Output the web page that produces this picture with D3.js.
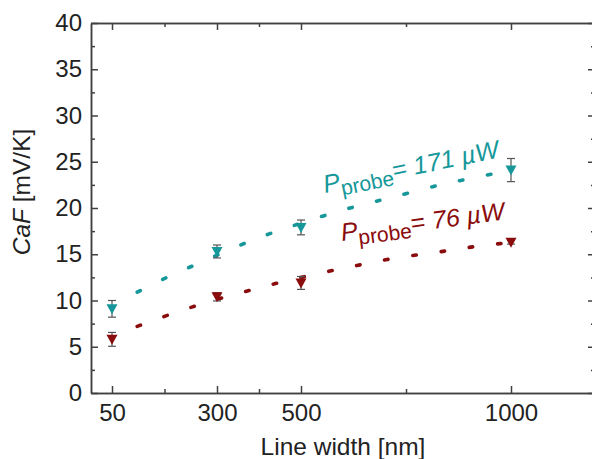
<!DOCTYPE html>
<html>
<head>
<meta charset="utf-8">
<script src="https://cdn.jsdelivr.net/npm/d3@7"></script>
<style>
  body { margin: 0; background: white; }
  text { font-family: "Liberation Sans", Arial, sans-serif; }
</style>
</head>
<body>
<div id="chart"></div>
<script>
const width = 592
const height = 459

// measured points (line width in nm)
const widths = [50, 300, 500, 1000]
const highVals = [9.1, 15.3, 17.9, 24.1]
const highErr = [0.9, 0.7, 0.8, 1.25]
const lowVals = [5.8, 10.4, 11.9, 16.3]
const lowErr = [0.75, 0.45, 0.7, 0.2]

// fit curves
const highFitX = [110, 170, 230, 290, 350, 410, 470, 535, 600, 665, 715, 785, 850, 915, 980]
const highFitY = [10.9, 12.3, 13.5, 14.7, 15.9, 17.0, 17.9, 18.9, 19.8, 20.6, 21.1, 22.0, 22.7, 23.3, 23.9]
const lowFitX = [110, 175, 240, 305, 370, 435, 500, 570, 635, 710, 785, 855, 920, 985]
const lowFitY = [7.2, 8.3, 9.3, 10.2, 11.0, 11.8, 12.5, 13.2, 13.8, 14.5, 15.0, 15.4, 15.9, 16.2]

const xMajor = [50, 300, 500, 1000]
const xMinor = [175, 400, 750]
const yMajor = [0, 5, 10, 15, 20, 25, 30, 35, 40]
const yMinor = d3.range(2.5, 40, 5)

const teal = "#16979a"
const red = "#8a0c0c"
const axisColor = "#404040"

const x = d3.scaleLinear([0, 1200], [91, 595])
const y = d3.scaleLinear([0, 40], [393, 23])

const svg = d3.select("#chart").append("svg")
  .attr("width", width)
  .attr("height", height)
  .style("background", "white")

// axes, ticks pointing inward
function styleAxis(g) {
  g.selectAll("path, line").attr("stroke", axisColor).attr("stroke-width", 1.5)
  g.selectAll("text").attr("fill", "#222").style("font-size", "24px")
    .style("font-family", "'Liberation Sans', Arial, sans-serif")
}

svg.append("g").attr("transform", "translate(0,393)")
  .call(d3.axisBottom(x).tickValues(xMajor).tickSizeInner(-7).tickSizeOuter(0).tickPadding(11).tickFormat(d3.format("d")))
  .call(styleAxis)
svg.append("g").attr("transform", "translate(0,393)")
  .call(d3.axisBottom(x).tickValues(xMinor).tickSizeInner(-4).tickSizeOuter(0).tickFormat(""))
  .call(styleAxis)
svg.append("g").attr("transform", "translate(0,23)")
  .call(d3.axisTop(x).tickValues(xMajor).tickSizeInner(-7).tickSizeOuter(0).tickFormat(""))
  .call(styleAxis)
svg.append("g").attr("transform", "translate(0,23)")
  .call(d3.axisTop(x).tickValues(xMinor).tickSizeInner(-4).tickSizeOuter(0).tickFormat(""))
  .call(styleAxis)

svg.append("g").attr("transform", "translate(91,0)")
  .call(d3.axisLeft(y).tickValues(yMajor).tickSizeInner(-7).tickSizeOuter(0).tickPadding(9))
  .call(styleAxis)
svg.append("g").attr("transform", "translate(91,0)")
  .call(d3.axisLeft(y).tickValues(yMinor).tickSizeInner(-4).tickSizeOuter(0).tickFormat(""))
  .call(styleAxis)
svg.append("g").attr("transform", "translate(595,0)")
  .call(d3.axisRight(y).tickValues(yMajor).tickSizeInner(-7).tickSizeOuter(0).tickFormat(""))
  .call(styleAxis)
svg.append("g").attr("transform", "translate(595,0)")
  .call(d3.axisRight(y).tickValues(yMinor).tickSizeInner(-4).tickSizeOuter(0).tickFormat(""))
  .call(styleAxis)

// axis titles
svg.append("text")
  .attr("x", x(600)).attr("y", 455)
  .attr("text-anchor", "middle")
  .style("font-size", "24.5px").attr("fill", "#222")
  .text("Line width [nm]")

const yTitle = svg.append("text")
  .attr("transform", "translate(30,192) rotate(-90)")
  .attr("text-anchor", "middle")
  .style("font-size", "24.5px").attr("fill", "#222")
yTitle.append("tspan").style("font-style", "italic").text("CaF")
yTitle.append("tspan").text(" [mV/K]")

// dotted fit curves
const line = d3.line().curve(d3.curveBasis)
function drawFit(xs, ys, color) {
  svg.append("path")
    .attr("d", line(xs.map((d, i) => [x(d), y(ys[i])])))
    .attr("fill", "none")
    .attr("stroke", color)
    .attr("stroke-width", 3.6)
    .attr("stroke-linecap", "round")
    .attr("stroke-dasharray", "3.5,25")
}
drawFit(highFitX, highFitY, teal)
drawFit(lowFitX, lowFitY, red)

// error bars and down triangles
const tri = "M-5.5,-4.5L5.5,-4.5L0,5.5Z"
function drawSeries(vals, errs, color) {
  const g = svg.append("g")
  widths.forEach((w, i) => {
    const cx = x(w)
    const top = y(vals[i] + errs[i])
    const bot = y(vals[i] - errs[i])
    g.append("line").attr("x1", cx).attr("x2", cx).attr("y1", top).attr("y2", bot)
      .attr("stroke", "#555").attr("stroke-width", 1.2)
    ;[top, bot].forEach(yy => g.append("line")
      .attr("x1", cx - 4).attr("x2", cx + 4).attr("y1", yy).attr("y2", yy)
      .attr("stroke", "#555").attr("stroke-width", 1.2))
    g.append("path").attr("d", tri)
      .attr("transform", `translate(${cx},${y(vals[i])})`)
      .attr("fill", color)
  })
}
drawSeries(highVals, highErr, teal)
drawSeries(lowVals, lowErr, red)

// annotations
function label(px, py, angle, power, color) {
  const t = svg.append("text")
    .attr("transform", `translate(${px},${py}) rotate(${angle})`)
    .attr("fill", color)
    .style("font-size", "25px")
  t.append("tspan").style("font-style", "italic").text("P")
  t.append("tspan").attr("dy", 6).style("font-size", "21px").text("probe")
  t.append("tspan").attr("dy", -6).text("= ")
  t.append("tspan").style("font-style", "italic").text(power + " \u00b5W")
}
label(325, 193, -11.5, "171", teal)
label(342, 241, -7.5, "76", red)
</script>
</body>
</html>
